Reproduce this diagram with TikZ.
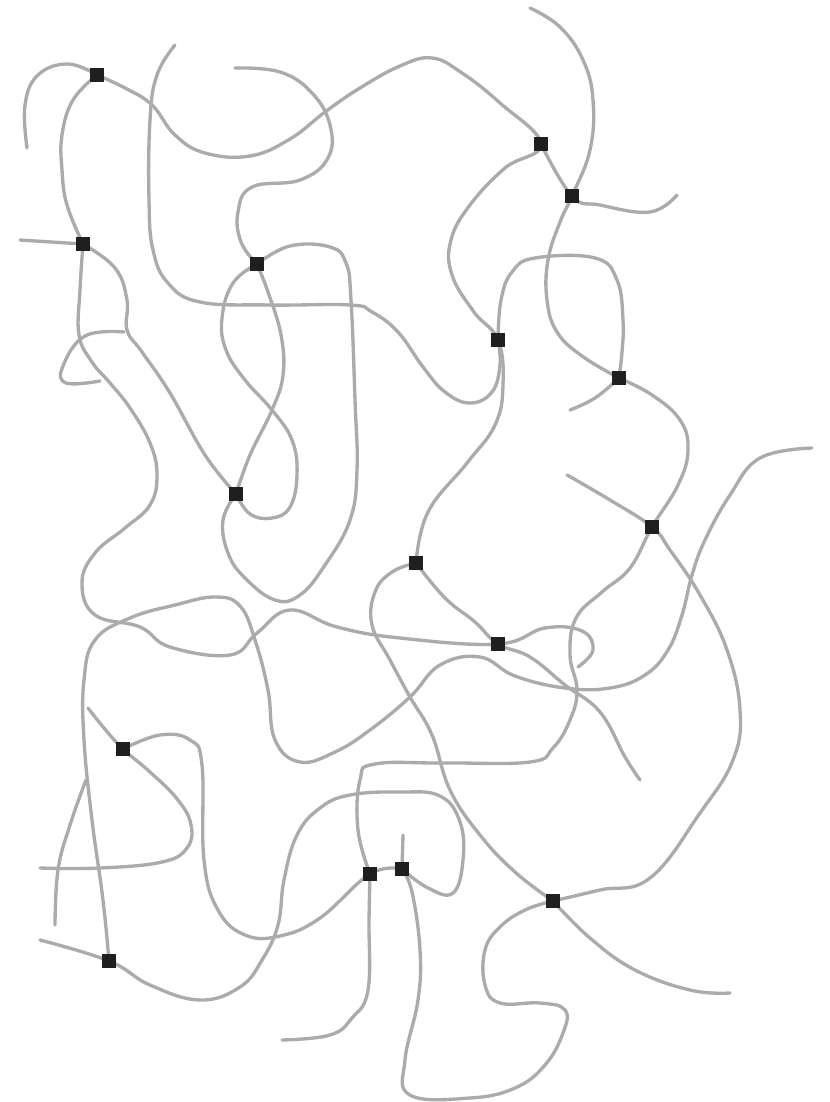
\documentclass[tikz,border=0pt]{standalone}
\usepackage{tikz}

\begin{document}
\begin{tikzpicture}[
    x=0.02cm, y=-0.02cm,
    strand/.style={draw=black!33, line width=1.9pt, line cap=round, line join=round},
    xlink/.style={rectangle, fill=black!88, inner sep=0pt, minimum size=0.27cm}
]
    % --- Canvas ---
    \useasboundingbox (0,0) rectangle (829,1102);

    % --- Crosslink positions ---
    \foreach \px/\py [count=\i] in {97/75, 83/244, 257/264, 541/144, 572/196, 498/340, 619/378, 236/494,
                                    652/527, 416/563, 498/644, 123/749, 370/874, 402/869, 553/901, 109/961}
        \coordinate (c\i) at (\px,\py);

    % --- Chains, upper part ---
    \draw[strand] plot[smooth, tension=0.7] coordinates {(27,148) (25,105) (38,75) (68,64) (c1)};
    \draw[strand] plot[smooth, tension=0.7] coordinates {(c1) (125,88) (152,105) (175,135) (205,153) (250,156) (290,139) (325,112) (360,88) (400,66) (432,58) (462,73) (500,103) (c4) (505,168) (470,205) (451,240) (452,275) (474,312) (c6) (503,385) (495,425) (467,463) (428,512) (c10)};
    \draw[strand] plot[smooth, tension=0.7] coordinates {(c1) (73,100) (62,135) (62,170) (67,205) (c2)};
    \draw[strand] (20,240) -- (c2);
    \draw[strand] plot[smooth, tension=0.7] coordinates {(c2) (80,290) (79,335) (92,362) (110,383) (130,408) (150,443) (157,475) (150,505) (125,528) (95,553) (82,583) (95,615) (140,627) (170,647) (230,655) (257,633) (290,610) (337,627) (400,638) (c11) (545,628) (582,631) (593,650) (578,667)};
    \draw[strand] plot[smooth, tension=0.7] coordinates {(c2) (115,268) (127,300) (127,330) (142,352) (170,393) (205,455) (c8)};
    \draw[strand] plot[smooth, tension=0.7] coordinates {(124,332) (85,336) (63,366) (66,383) (100,381)};
    \draw[strand] plot[smooth, tension=0.7] coordinates {(235,68) (280,72) (312,93) (330,125) (328,158) (300,180) (252,187) (238,212) (241,242) (c3)};
    \draw[strand] plot[smooth, tension=0.7] coordinates {(c3) (268,292) (281,335) (283,375) (272,410) (250,455) (c8)};
    \draw[strand] plot[smooth, tension=0.7] coordinates {(c3) (233,283) (222,318) (226,350) (245,380) (272,410) (292,440) (297,475) (290,507) (272,518) (250,514) (c8)};
    \draw[strand] plot[smooth, tension=0.7] coordinates {(c3) (290,246) (330,247) (346,263) (351,300) (355,400) (357,470) (350,520) (325,565) (300,595) (275,600) (245,578) (228,553) (223,520) (c8)};
    \draw[strand] plot[smooth, tension=0.7] coordinates {(175,45) (157,75) (150,120) (149,200) (153,250) (168,283) (200,302) (270,305) (350,305) (372,312) (398,332) (423,367) (445,392) (470,403) (492,392) (500,365) (c6)};
    \draw[strand] plot[smooth, tension=0.7] coordinates {(530,8) (560,27) (583,60) (593,100) (590,150) (c5) (560,222) (548,260) (547,300) (557,332) (582,356) (c7)};
    \draw[strand] plot[smooth, tension=0.7] coordinates {(c4) (c5) (600,205) (650,212) (677,195)};
    \draw[strand] plot[smooth, tension=0.7] coordinates {(c6) (501,300) (512,272) (535,258) (595,258) (617,280) (623,320) (622,352) (c7)};
    \draw[strand] plot[smooth, tension=0.7] coordinates {(c7) (595,398) (570,410)};

    % --- Chains, lower part ---
    \draw[strand] plot[smooth, tension=0.7] coordinates {(c7) (652,395) (680,420) (688,450) (678,485) (c9) (630,568) (602,592) (576,618) (570,655) (577,690) (570,720) (553,748) (530,762) (445,763) (375,764) (360,780) (358,830) (c13)};
    \draw[strand] plot[smooth, tension=0.7] coordinates {(567,475) (610,500) (c9) (670,550) (700,595) (727,650) (740,710) (733,760) (700,813) (650,878) (600,890) (c15)};
    \draw[strand] plot[smooth, tension=0.7] coordinates {(c10) (392,572) (375,592) (372,625) (390,660) (410,697) (432,735) (450,790) (480,835) (515,872) (c15)};
    \draw[strand] plot[smooth, tension=0.7] coordinates {(c10) (445,598) (475,622) (c11) (530,657) (565,685) (600,712) (625,757) (640,780)};
    \draw[strand] plot[smooth, tension=0.7] coordinates {(c16) (103,900) (92,820) (84,740) (84,680) (95,640) (130,618) (175,605) (215,597) (240,606) (255,640) (268,690) (275,740) (300,762) (335,752) (370,730) (410,697) (440,665) (480,657) (515,676) (565,688) (610,688) (645,675) (668,650) (682,615) (692,575) (705,540) (730,495) (760,458) (812,448)};
    \draw[strand] plot[smooth, tension=0.7] coordinates {(40,868) (100,868) (162,862) (187,848) (191,825) (178,800) (150,772) (c12) (104,728) (88,708)};
    \draw[strand] plot[smooth, tension=0.7] coordinates {(c12) (160,735) (190,740) (202,765) (204,860) (218,910) (245,935) (280,936) (320,918) (c13) (c14)};
    \draw[strand] plot[smooth, tension=0.7] coordinates {(40,940) (c16) (150,985) (200,1000) (240,987) (262,960) (278,925) (284,880) (297,835) (320,808) (350,795) (400,792) (440,796) (460,822) (463,860) (453,893) (428,888) (c14)};
    \draw[strand] plot[smooth, tension=0.7] coordinates {(c13) (369,920) (368,990) (352,1018) (330,1035) (282,1040)};
    \draw[strand] plot[smooth, tension=0.7] coordinates {(c14) (412,892) (420,950) (418,1000) (405,1060) (410,1095) (470,1098) (515,1088) (545,1065) (563,1033) (565,1010) (540,1003) (500,1003) (485,985) (485,950) (500,927) (525,910) (c15)};
    \draw[strand] (c14) -- (403,835);
    \draw[strand] plot[smooth, tension=0.7] coordinates {(c15) (590,938) (635,970) (690,990) (730,993)};
    \draw[strand] plot[smooth, tension=0.7] coordinates {(86,780) (70,825) (58,870) (55,925)};

    % --- Crosslinks ---
    \foreach \i in {1,...,16}
        \node[xlink] (x\i) at (c\i) {};
\end{tikzpicture}
\end{document}
